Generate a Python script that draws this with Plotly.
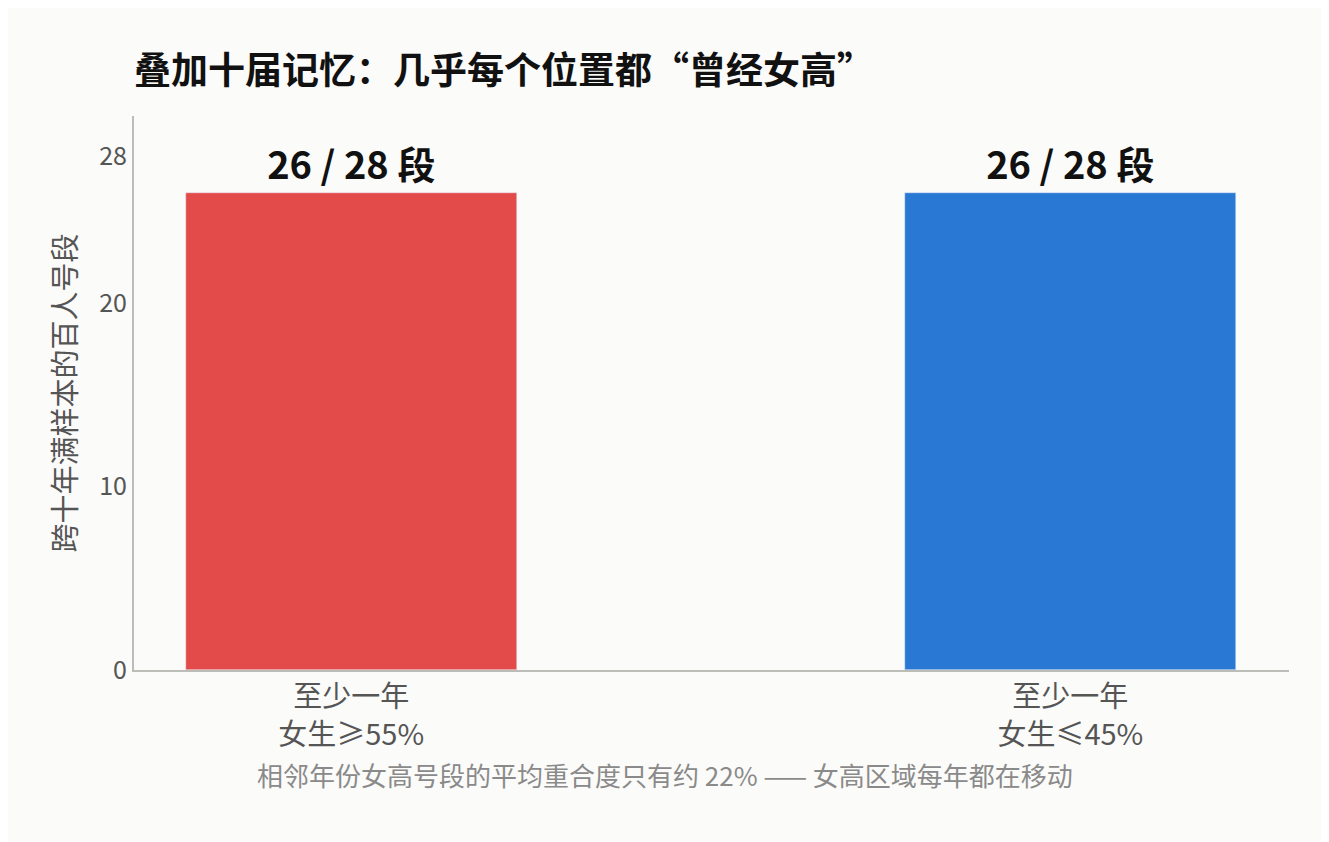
import plotly.graph_objects as go

categories = ["至少一年<br>女生≥55%", "至少一年<br>女生≤45%"]
values = [26, 26]
labels = ["26 / 28 段", "26 / 28 段"]
colors = ["#e34a4a", "#2979d4"]
x_pos = [0, 1]

font = "Noto Sans CJK SC"

fig = go.Figure()
fig.add_trace(go.Bar(
    x=x_pos, y=values, width=0.46, marker_color=colors,
    text=labels, textposition="outside",
    textfont=dict(size=38, color="#111111", family=font, weight="bold"),
    cliponaxis=False, showlegend=False,
))

fig.update_layout(
    width=1329, height=842,
    paper_bgcolor="#fbfbf9", plot_bgcolor="#fbfbf9",
    margin=dict(l=126, r=48, t=108, b=180),
    font=dict(family=font, color="#555555"),
    title=dict(text="<b>叠加十届记忆：几乎每个位置都“曾经女高”</b>",
               x=0.0, xref="paper", y=0.925, yanchor="middle",
               font=dict(size=37, color="#111111", family=font)),
    bargap=0,
)
fig.update_xaxes(range=[-0.302, 1.304], tickvals=x_pos, ticktext=categories,
                 tickfont=dict(size=29, color="#555555"), showgrid=False,
                 showline=True, linecolor="#bdbdb8", linewidth=2, ticks="", zeroline=False)
fig.update_yaxes(range=[0, 30.2], tickvals=[0, 10, 20, 28],
                 tickfont=dict(size=25, color="#555555"), showgrid=False,
                 showline=True, linecolor="#bdbdb8", linewidth=2, zeroline=False,
                 title=dict(text="跨十年满样本的百人号段", font=dict(size=29, color="#555555"), standoff=14))

fig.add_annotation(text="相邻年份女高号段的平均重合度只有约 22% —— 女高区域每年都在移动",
                   xref="paper", yref="paper", x=0.46, y=-0.225, showarrow=False,
                   font=dict(size=26, color="#8a8a8a"))

fig.write_html("out.html")
